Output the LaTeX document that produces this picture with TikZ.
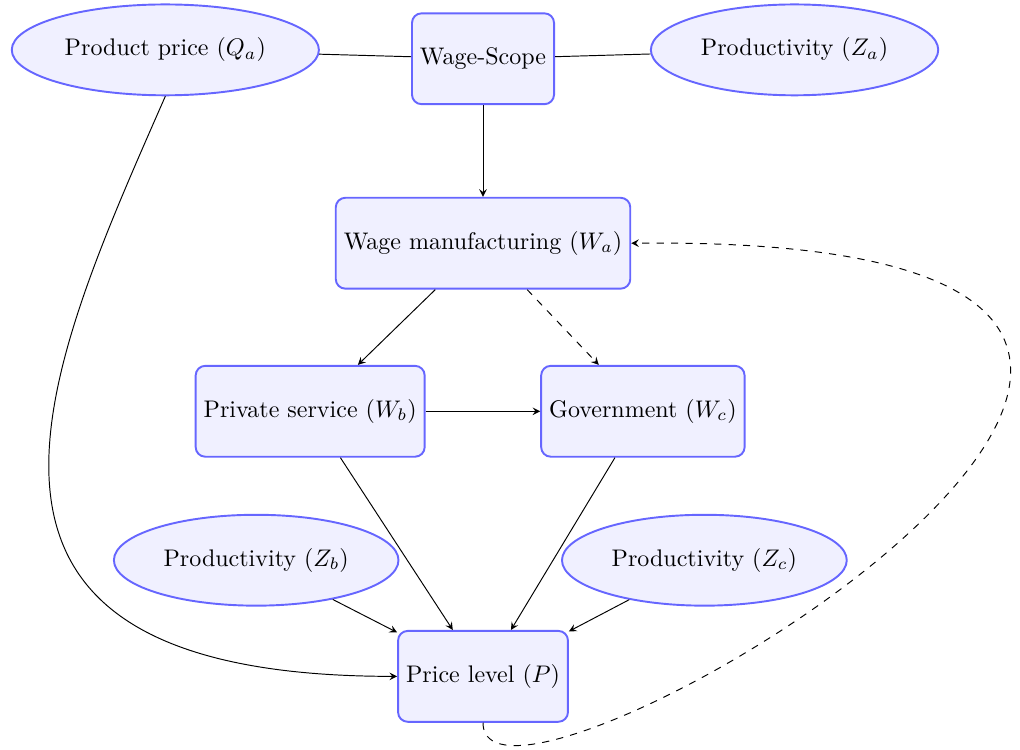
\documentclass[tikz,border=0pt]{standalone}
\usepackage{amsmath, amsfonts}
\usetikzlibrary{shapes.geometric}

\begin{document}
\begin{tikzpicture}[
		box/.style={rectangle, rounded corners, draw=blue!60, fill=blue!6, thick, minimum height=1.33cm},
		oval/.style={ellipse, draw=blue!60, fill=blue!6, thick, minimum height=1.33cm}
	]
			\useasboundingbox (0,0) rectangle (14.93,-10.97);
			
			% wage nodes
			\node[box] (scope) at (7.07,-0.86) {Wage-Scope};
			\node[box] (manuf) at (7.07,-3.56) {Wage manufacturing ($W_a$)};
			\node[box] (private) at (4.54,-6.02) {Private service ($W_b$)};
			\node[box] (gov) at (9.41,-6.02) {Government ($W_c$)};
			\node[box] (price) at (7.07,-9.90) {Price level ($P$)};
			
			% exogenous
			\node[oval] (qa) at (2.42,-0.73) {Product price ($Q_a$)};
			\node[oval] (za) at (11.63,-0.73) {Productivity ($Z_a$)};
			\node[oval] (zb) at (3.75,-8.20) {Productivity ($Z_b$)};
			\node[oval] (zc) at (10.31,-8.20) {Productivity ($Z_c$)};
			
			% top row
			\draw (qa) -- (scope);
			\draw (scope) -- (za);
			\draw[->, >=stealth] (scope) -- (manuf);
			
			% spillover
			\draw[->, >=stealth] (manuf) -- (private);
			\draw[->, >=stealth, dashed] (manuf) -- (gov);
			\draw[->, >=stealth] (private) -- (gov);
			
			% prices
			\draw[->, >=stealth] (private) -- (price);
			\draw[->, >=stealth] (gov) -- (price);
			\draw[->, >=stealth] (zb) -- (price);
			\draw[->, >=stealth] (zc) -- (price);
			\draw[->, >=stealth] (qa.south) .. controls +(-1.8,-4.1) and +(-7.2,0) .. (price.west);
			
			% feedback
			\draw[->, >=stealth, dashed] (price.south) .. controls +(0,-2.2) and +(13.6,0.15) .. (manuf.east);
		\end{tikzpicture}
\end{document}
